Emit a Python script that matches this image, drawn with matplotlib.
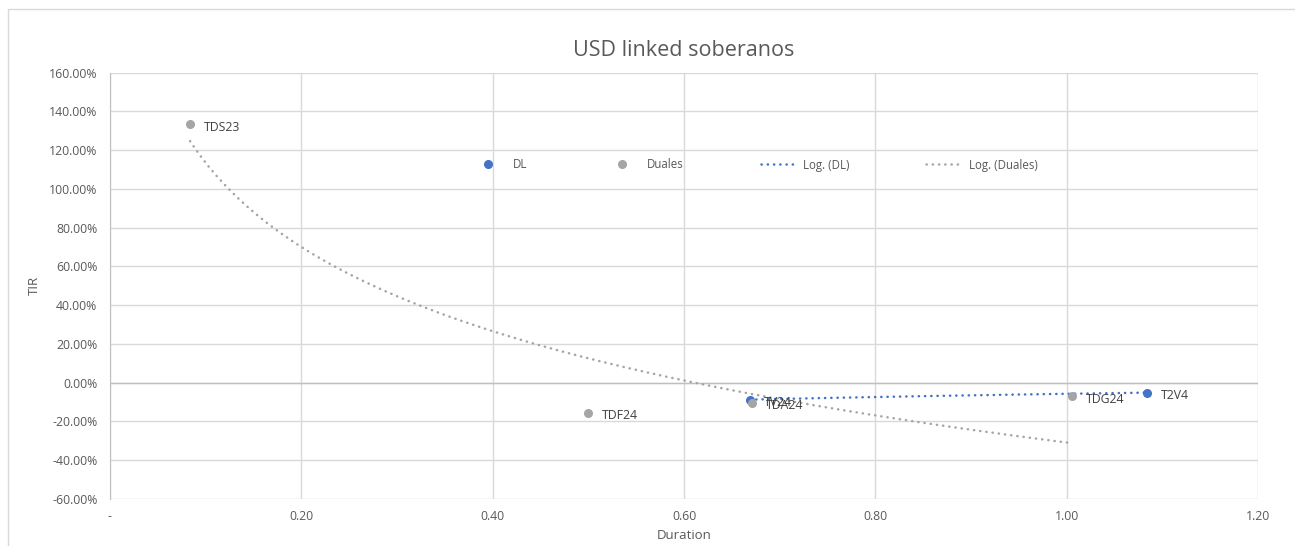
import matplotlib
matplotlib.use("Agg")
import matplotlib.pyplot as plt
import numpy as np
from matplotlib.lines import Line2D
from matplotlib.patches import Rectangle
from matplotlib.ticker import FuncFormatter, MultipleLocator

# Dollar-linked bonds
dl_names = ["TV24", "T2V4"]
dl_duration = [0.669, 1.084]
dl_tir = [-0.087, -0.051]

# Dual bonds
dual_names = ["TDS23", "TDF24", "TDA24", "TDG24"]
dual_duration = [0.0837, 0.500, 0.6706, 1.0055]
dual_tir = [1.334, -0.157, -0.104, -0.070]

BLUE = "#4472C4"
GRAY = "#A5A5A5"
GRID = "#D9D9D9"
AXIS = "#BFBFBF"
TEXT = "#595959"

plt.rcParams["font.family"] = ["Open Sans", "DejaVu Sans"]


def log_trend(xs, ys):
    b, a = np.polyfit(np.log(xs), ys, 1)
    xx = np.linspace(min(xs), max(xs), 200)
    return xx, a + b * np.log(xx)


def build_figure():
    fig = plt.figure(figsize=(12.95, 5.46), dpi=100, facecolor="white")
    ax = fig.add_axes([110 / 1295, 1 - 499 / 546, 1148 / 1295, 426.3 / 546])

    ax.set_xlim(0, 1.2)
    ax.set_ylim(-0.6, 1.6)
    ax.xaxis.set_major_locator(MultipleLocator(0.2))
    ax.yaxis.set_major_locator(MultipleLocator(0.2))
    ax.xaxis.set_major_formatter(
        FuncFormatter(lambda v, p: "-" if abs(v) < 1e-9 else f"{v:.2f}"))
    ax.yaxis.set_major_formatter(FuncFormatter(lambda v, p: f"{v * 100:.2f}%"))
    ax.grid(True, color=GRID, linewidth=1.0)
    ax.set_axisbelow(True)
    for side in ("top", "right", "bottom"):
        ax.spines[side].set_visible(False)
    ax.spines["left"].set_color(AXIS)
    ax.axhline(0, color=AXIS, linewidth=1.0, zorder=1)
    ax.tick_params(length=0, labelsize=8.8, labelcolor=TEXT)
    ax.tick_params(axis="y", pad=9)
    ax.tick_params(axis="x", pad=8)

    dots = (0, (0.1, 2.4))
    xx, yy = log_trend(dual_duration, dual_tir)
    ax.plot(xx, yy, color=GRAY, linewidth=1.8, linestyle=dots,
            dash_capstyle="round", zorder=2)
    xx, yy = log_trend(dl_duration, dl_tir)
    ax.plot(xx, yy, color=BLUE, linewidth=1.8, linestyle=dots,
            dash_capstyle="round", zorder=2)

    ax.plot(dl_duration, dl_tir, "o", color=BLUE, markersize=5.5, zorder=3)
    ax.plot(dual_duration, dual_tir, "o", color=GRAY, markersize=5.5, zorder=3)

    for names, xs, ys in ((dl_names, dl_duration, dl_tir),
                          (dual_names, dual_duration, dual_tir)):
        for n, x, y in zip(names, xs, ys):
            ax.annotate(n, (x, y), xytext=(10, -2), textcoords="offset points",
                        fontsize=8.8, color="#404040", va="center")

    fig.text(684 / 1295, 1 - 50 / 546, "USD linked soberanos", fontsize=15.5,
             color=TEXT, ha="center", va="center")
    ax.set_xlabel("Duration", fontsize=9.5, color=TEXT, labelpad=4)
    ax.set_ylabel("TIR", fontsize=9.5, color=TEXT, labelpad=6)

    handles = [
        Line2D([], [], marker="o", linestyle="none", color=BLUE, markersize=5.5),
        Line2D([], [], marker="o", linestyle="none", color=GRAY, markersize=5.5),
        Line2D([], [], color=BLUE, linewidth=1.8, linestyle=dots,
               dash_capstyle="round"),
        Line2D([], [], color=GRAY, linewidth=1.8, linestyle=dots,
               dash_capstyle="round"),
    ]
    labels = ["DL", "Duales", "Log. (DL)", "Log. (Duales)"]
    leg = fig.legend(handles, labels, loc="center left",
                     bbox_to_anchor=(471 / 1295, 1 - 165 / 546),
                     ncol=4, frameon=False, fontsize=8.3, handlelength=2.95,
                     handletextpad=0.7, columnspacing=6.7, borderpad=0,
                     borderaxespad=0)
    for t in leg.get_texts():
        t.set_color(TEXT)

    fig.add_artist(Rectangle((8 / 1295, -0.1), 1.2, 1.1 - 9 / 546,
                             transform=fig.transFigure, fill=False,
                             edgecolor=GRID, linewidth=1.0))
    return fig


def main():
    fig = build_figure()
    fig.savefig("out.png", facecolor=fig.get_facecolor())


if __name__ == "__main__":
    main()
